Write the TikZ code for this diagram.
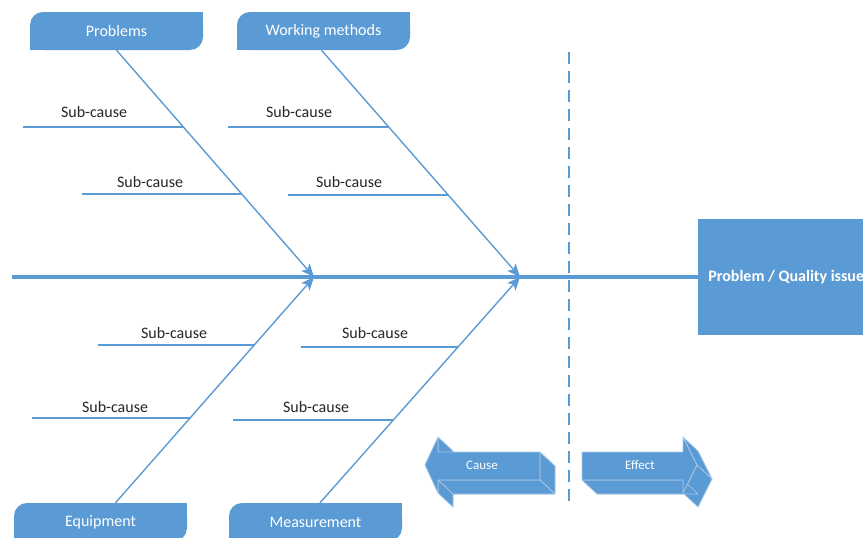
\documentclass[tikz,border=0pt]{standalone}
\usepackage{fontspec}
\setmainfont{Carlito}
\usetikzlibrary{arrows.meta}
\definecolor{ob}{HTML}{5B9BD5}
\definecolor{obedge}{HTML}{A9C8E8}
\definecolor{txt}{HTML}{262626}
\begin{document}
\begin{tikzpicture}[x=1pt,y=-1pt,
  catbox/.style={fill=ob,rounded corners=13pt,minimum width=173pt,minimum height=38pt,inner sep=0pt,text=white,font=\fontsize{16}{19}\selectfont},
  bone/.style={draw=ob,line width=1.4pt,-{Stealth[length=13pt,width=11pt,inset=3pt]}},
  subline/.style={draw=ob,line width=1.2pt},
  sublabel/.style={text=txt,font=\fontsize{16}{19}\selectfont,inner sep=0pt},
  face/.style={fill=ob,draw=obedge,line width=0.7pt,line join=round},
  hidden/.style={fill=ob},
  arrlabel/.style={text=white,font=\fontsize{13}{15}\selectfont,inner sep=0pt},
]
\clip (0,0) rectangle (863,538);
\fill[white] (0,0) rectangle (863,538);

% category boxes
\node[catbox] (prob) at (116.5,31) {Problems};
\fill[ob] (prob.north east) rectangle ++(-15,15);
\fill[ob] (prob.south west) rectangle ++(15,-15);
\node[catbox] (work) at (323.5,31) {Working methods};
\fill[ob] (work.north east) rectangle ++(-15,15);
\fill[ob] (work.south west) rectangle ++(15,-15);
\node[catbox] (equip) at (100.5,522) {Equipment};
\fill[ob] (equip.north east) rectangle ++(-15,15);
\fill[ob] (equip.south west) rectangle ++(15,-15);
\node[catbox] (meas) at (315.5,522) {Measurement};
\fill[ob] (meas.north east) rectangle ++(-15,15);
\fill[ob] (meas.south west) rectangle ++(15,-15);

% effect box
\node[fill=ob,minimum width=176pt,minimum height=116pt,inner sep=0pt,anchor=west,text=white,font=\bfseries\fontsize{16}{19}\selectfont] (effect) at (698,277) {Problem / Quality issue};

% spine
\coordinate (tail) at (12,277);
\draw[ob,line width=4pt] (tail) -- (effect.west);

% bones
\coordinate (j1) at (314,277);
\coordinate (j2) at (520,277);
\draw[bone] (prob.south) -- (j1);
\draw[bone] ([xshift=-2pt]work.south) -- (j2);
\draw[bone] ([xshift=15pt]equip.north) -- (j1);
\draw[bone] ([xshift=4.5pt]meas.north) -- (j2);

% sub-causes
\draw[subline] (23,127) -- (183,127);
\node[sublabel] (s1) at (94,112) {Sub-cause};
\draw[subline] (82,194) -- (241,194);
\node[sublabel] (s2) at (150,182) {Sub-cause};
\draw[subline] (228,127) -- (388,127);
\node[sublabel] (s3) at (299,112) {Sub-cause};
\draw[subline] (288,195) -- (448,195);
\node[sublabel] (s4) at (349,182) {Sub-cause};
\draw[subline] (98,345) -- (255,345);
\node[sublabel] (s5) at (174,333) {Sub-cause};
\draw[subline] (32,418) -- (190,418);
\node[sublabel] (s6) at (115,407) {Sub-cause};
\draw[subline] (301,347) -- (458,347);
\node[sublabel] (s7) at (375,333) {Sub-cause};
\draw[subline] (233,420) -- (393,420);
\node[sublabel] (s8) at (316,407) {Sub-cause};

% dashed divider
\coordinate (dtop) at (569,52);
\coordinate (dbot) at (569,503);
\draw[ob,line width=1.5pt,dash pattern=on 12pt off 7pt] (dtop) -- (dbot);

% Cause 3D arrow (pointing left)
\fill[hidden] (440,479) -- (453,451) -- (453,466) -- (555,466) -- (555,494) -- (453,494) -- (453,507) -- cycle;
\fill[hidden] (425,465) -- (438,437) -- (453,451) -- (440,479) -- cycle;
\fill[hidden] (438,452) -- (540,452) -- (555,466) -- (453,466) -- cycle;
\fill[hidden] (438,493) -- (425,465) -- (440,479) -- (453,507) -- cycle;
\draw[face] (438,437) -- (438,452) -- (453,466) -- (453,451) -- cycle;
\draw[face] (540,452) -- (540,480) -- (555,494) -- (555,466) -- cycle;
\draw[face] (540,480) -- (438,480) -- (453,494) -- (555,494) -- cycle;
\draw[face] (438,480) -- (438,493) -- (453,507) -- (453,494) -- cycle;
\draw[face] (425,465) -- (438,437) -- (438,452) -- (540,452) -- (540,480) -- (438,480) -- (438,493) -- cycle;
\node[arrlabel] (cause) at (482,465) {Cause};

% Effect 3D arrow (pointing right)
\fill[hidden] (597,466) -- (698,466) -- (698,451) -- (712,479) -- (698,507) -- (698,494) -- (597,494) -- cycle;
\fill[hidden] (582,452) -- (683,452) -- (698,466) -- (597,466) -- cycle;
\fill[hidden] (582,452) -- (582,480) -- (597,494) -- (597,466) -- cycle;
\fill[hidden] (683,480) -- (683,493) -- (698,507) -- (698,494) -- cycle;
\draw[face] (683,437) -- (697,465) -- (712,479) -- (698,451) -- cycle;
\draw[face] (697,465) -- (683,493) -- (698,507) -- (712,479) -- cycle;
\draw[face] (683,480) -- (582,480) -- (597,494) -- (698,494) -- cycle;
\draw[face] (582,452) -- (683,452) -- (683,437) -- (697,465) -- (683,493) -- (683,480) -- (582,480) -- cycle;
\node[arrlabel] (effectlbl) at (640,465) {Effect};
\end{tikzpicture}
\end{document}
